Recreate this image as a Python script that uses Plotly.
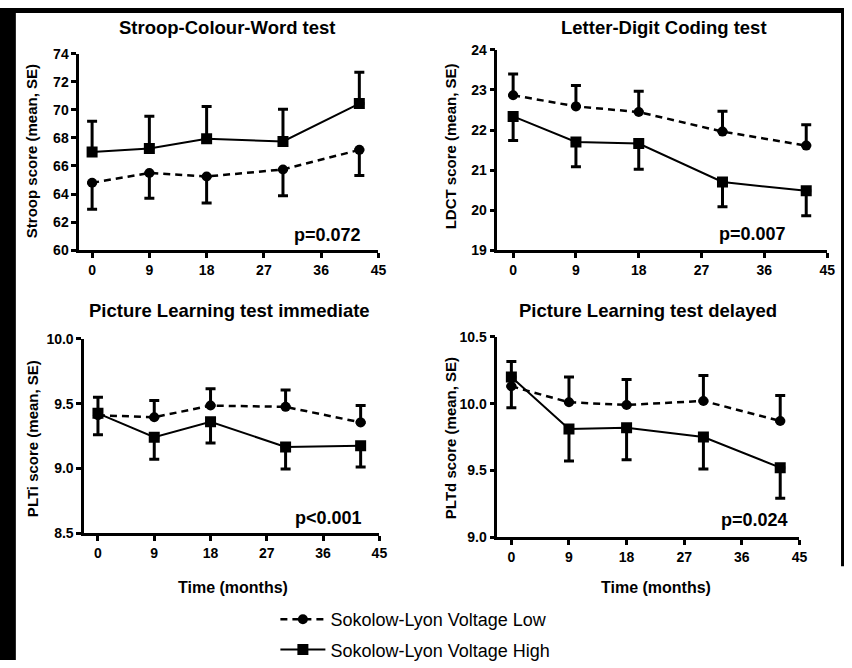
import plotly.graph_objects as go

W, H = 852, 668

months = [0, 9, 18, 30, 42]
x_ticks = [0, 9, 18, 27, 36, 45]

series_names = ["Sokolow-Lyon Voltage Low", "Sokolow-Lyon Voltage High"]

panel_titles = ["Stroop-Colour-Word test", "Letter-Digit Coding test",
                "Picture Learning test immediate", "Picture Learning test delayed"]
y_titles = ["Stroop score (mean, SE)", "LDCT score (mean, SE)",
            "PLTi score (mean, SE)", "PLTd score (mean, SE)"]
p_values = ["p=0.072", "p=0.007", "p<0.001", "p=0.024"]

# Stroop
stroop_low = [64.8, 65.5, 65.25, 65.75, 67.15]
stroop_low_se = [1.88, 1.8, 1.9, 1.88, 1.83]
stroop_high = [67.0, 67.25, 67.95, 67.75, 70.45]
stroop_high_se = [2.2, 2.3, 2.3, 2.3, 2.23]

# LDCT
ldct_low = [22.87, 22.59, 22.45, 21.96, 21.61]
ldct_low_se = [0.53, 0.52, 0.52, 0.51, 0.52]
ldct_high = [22.34, 21.7, 21.66, 20.7, 20.48]
ldct_high_se = [0.6, 0.62, 0.64, 0.62, 0.62]

# PLTi
plti_low = [9.41, 9.395, 9.485, 9.475, 9.355]
plti_low_se = [0.14, 0.13, 0.13, 0.13, 0.13]
plti_high = [9.425, 9.24, 9.36, 9.165, 9.175]
plti_high_se = [0.165, 0.17, 0.165, 0.17, 0.165]

# PLTd
pltd_low = [10.13, 10.01, 9.99, 10.02, 9.87]
pltd_low_se = [0.185, 0.19, 0.19, 0.19, 0.19]
pltd_high = [10.2, 9.81, 9.82, 9.75, 9.52]
pltd_high_se = [0.23, 0.24, 0.24, 0.24, 0.23]

panels = [
    dict(px=(80, 382), py=(47, 248), xr=(-2.02, 45), yr=(60, 74),
         yt=[60, 62, 64, 66, 68, 70, 72, 74], fmt="d",
         low=stroop_low, lse=stroop_low_se, high=stroop_high, hse=stroop_high_se,
         low_up=False),
    dict(px=(502, 835), py=(43, 248), xr=(-2.27, 45), yr=(19, 24),
         yt=[19, 20, 21, 22, 23, 24], fmt="d",
         low=ldct_low, lse=ldct_low_se, high=ldct_high, hse=ldct_high_se,
         low_up=True),
    dict(px=(85, 383), py=(339, 538), xr=(-2.2, 45), yr=(8.5, 10.0),
         yt=[8.5, 9.0, 9.5, 10.0], fmt=".1f",
         low=plti_low, lse=plti_low_se, high=plti_high, hse=plti_high_se,
         low_up=True),
    dict(px=(502, 807), py=(337, 542), xr=(-2.2, 45), yr=(9.0, 10.5),
         yt=[9.0, 9.5, 10.0, 10.5], fmt=".1f",
         low=pltd_low, lse=pltd_low_se, high=pltd_high, hse=pltd_high_se,
         low_up=True),
]


def fx(p):
    return p / W


def fy(p):
    return 1 - p / H


FONT = "Arial, Liberation Sans, sans-serif"
fig = go.Figure()

for i, pn in enumerate(panels):
    n = i + 1
    xa = "x" if n == 1 else f"x{n}"
    ya = "y" if n == 1 else f"y{n}"
    zeros = [0] * len(months)
    if pn["low_up"]:
        low_err = dict(type="data", symmetric=False, array=pn["lse"], arrayminus=zeros,
                       color="black", thickness=3, width=5)
        high_err = dict(type="data", symmetric=False, array=zeros, arrayminus=pn["hse"],
                        color="black", thickness=3, width=5)
    else:
        low_err = dict(type="data", symmetric=False, array=zeros, arrayminus=pn["lse"],
                       color="black", thickness=3, width=5)
        high_err = dict(type="data", symmetric=False, array=pn["hse"], arrayminus=zeros,
                        color="black", thickness=3, width=5)
    fig.add_trace(go.Scatter(
        x=months, y=pn["low"], error_y=low_err, mode="lines+markers",
        line=dict(color="black", width=2.5, dash="7px,5px"),
        marker=dict(symbol="circle", size=10, color="black"),
        name=series_names[0], legendgroup="low", showlegend=(n == 1),
        xaxis=xa, yaxis=ya))
    fig.add_trace(go.Scatter(
        x=months, y=pn["high"], error_y=high_err, mode="lines+markers",
        line=dict(color="black", width=2),
        marker=dict(symbol="square", size=11, color="black"),
        name=series_names[1], legendgroup="high", showlegend=(n == 1),
        xaxis=xa, yaxis=ya))

    axcommon = dict(showline=True, linecolor="black", linewidth=2.5, ticks="outside",
                    ticklen=5, tickwidth=2.5, tickcolor="black", showgrid=False,
                    zeroline=False, tickfont=dict(family=FONT, size=14, color="black",
                                                  weight="bold"))
    xkey = "xaxis" if n == 1 else f"xaxis{n}"
    ykey = "yaxis" if n == 1 else f"yaxis{n}"
    fig.update_layout(**{
        xkey: dict(domain=[fx(pn["px"][0]), fx(pn["px"][1])], range=list(pn["xr"]),
                   tickvals=x_ticks, anchor=ya, **axcommon),
        ykey: dict(domain=[fy(pn["py"][1]), fy(pn["py"][0])], range=list(pn["yr"]),
                   tickvals=pn["yt"], tickformat=pn["fmt"], anchor=xa, **axcommon),
    })

title_pos = [(230, 20), (670, 20), (232, 310), (654, 310)]
ytitle_pos = [(32, 147), (455, 142), (33, 441), (455, 441)]
p_pos = [(331, 233), (760, 232), (332, 523), (762, 525)]


def ann(x, y, text, size, bold=True, angle=0):
    fig.add_annotation(x=fx(x), y=fy(y), xref="paper", yref="paper", text=text,
                       showarrow=False, xanchor="center", yanchor="middle", textangle=angle,
                       font=dict(family=FONT, size=size, color="black",
                                 weight="bold" if bold else "normal"))


for i in range(4):
    ann(*title_pos[i], panel_titles[i], 18.5)
    ann(*ytitle_pos[i], y_titles[i], 15, angle=-90)
    ann(*p_pos[i], p_values[i], 18)

for xc in (235, 662):
    ann(xc, 594, "Time (months)", 16)

# black frame strips of the original image
fig.add_shape(type="rect", xref="paper", yref="paper", x0=0, x1=fx(16), y0=0, y1=1,
              fillcolor="black", line_width=0, layer="below")
fig.add_shape(type="rect", xref="paper", yref="paper", x0=0, x1=1, y0=fy(5), y1=1,
              fillcolor="black", line_width=0, layer="below")
fig.add_shape(type="rect", xref="paper", yref="paper", x0=fx(849), x1=1, y0=fy(572), y1=1,
              fillcolor="black", line_width=0, layer="below")

fig.update_layout(
    width=W, height=H, margin=dict(l=0, r=0, t=0, b=0),
    paper_bgcolor="white", plot_bgcolor="rgba(0,0,0,0)",
    showlegend=True,
    legend=dict(x=fx(278), y=fy(608), xanchor="left", yanchor="top",
                font=dict(family=FONT, size=18, color="black"),
                tracegroupgap=4, bgcolor="rgba(0,0,0,0)", itemwidth=45),
)

fig.write_html("out.html")
